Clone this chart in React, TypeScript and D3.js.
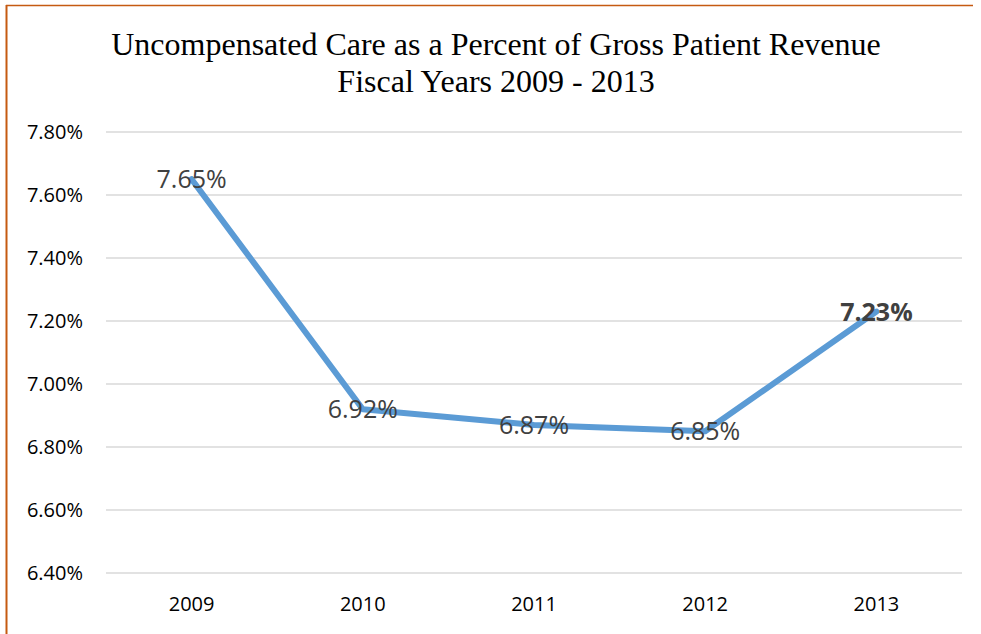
import React, { useEffect, useRef } from "react";
import * as d3 from "d3";

const years = ["2009", "2010", "2011", "2012", "2013"];
const uncompensatedPct = [7.65, 6.92, 6.87, 6.85, 7.23];
const yTicks = [6.4, 6.6, 6.8, 7.0, 7.2, 7.4, 7.6, 7.8];
const titleLines = [
  "Uncompensated Care as a Percent of Gross Patient Revenue",
  "Fiscal Years 2009 - 2013",
];

const App = () => {
  const svgRef = useRef<SVGSVGElement | null>(null);

  useEffect(() => {
    if (!svgRef.current) return;
    const width = 981, height = 634;
    const left = 106, right = 962, top = 132, bottom = 573;

    const x = d3.scaleBand().domain(years).range([left, right]);
    const y = d3.scaleLinear().domain([6.4, 7.8]).range([bottom, top]);

    const svg = d3.select(svgRef.current);
    svg.selectAll("*").remove();

    svg.append("rect").attr("width", width).attr("height", height).attr("fill", "white");

    // page border (orange)
    svg.append("line")
      .attr("x1", 6.5).attr("x2", 6.5).attr("y1", 5).attr("y2", height)
      .attr("stroke", "#C55A11").attr("stroke-width", 2);
    svg.append("line")
      .attr("x1", 6).attr("x2", 973).attr("y1", 5.5).attr("y2", 5.5)
      .attr("stroke", "#C55A11").attr("stroke-width", 1.5);

    svg.append("text")
      .attr("text-anchor", "middle")
      .attr("font-family", "'Liberation Serif', 'Times New Roman', serif")
      .attr("font-size", 32)
      .attr("fill", "#000")
      .selectAll("tspan")
      .data(titleLines)
      .enter()
      .append("tspan")
      .attr("x", 496)
      .attr("y", (d, i) => 55 + i * 37)
      .text(d => d);

    // gridlines
    svg.append("g")
      .selectAll("line")
      .data(yTicks)
      .enter()
      .append("line")
      .attr("x1", left).attr("x2", right)
      .attr("y1", d => y(d)).attr("y2", d => y(d))
      .attr("stroke", "#D9D9D9").attr("stroke-width", 1.5);

    svg.append("g")
      .selectAll("text")
      .data(yTicks)
      .enter()
      .append("text")
      .attr("x", 83)
      .attr("y", d => y(d))
      .attr("dy", "0.36em")
      .attr("text-anchor", "end")
      .attr("font-family", "'Open Sans', sans-serif")
      .attr("font-size", 20)
      .attr("fill", "#000")
      .text(d => d3.format(".2f")(d) + "%");

    svg.append("g")
      .selectAll("text")
      .data(years)
      .enter()
      .append("text")
      .attr("x", d => (x(d) as number) + x.bandwidth() / 2)
      .attr("y", 604)
      .attr("dy", "0.36em")
      .attr("text-anchor", "middle")
      .attr("font-family", "'Open Sans', sans-serif")
      .attr("font-size", 20)
      .attr("fill", "#000")
      .text(d => d);

    const line = d3.line<number>()
      .x((d, i) => (x(years[i]) as number) + x.bandwidth() / 2)
      .y(d => y(d));

    svg.append("path")
      .datum(uncompensatedPct)
      .attr("d", line)
      .attr("fill", "none")
      .attr("stroke", "#5B9BD5")
      .attr("stroke-width", 6)
      .attr("stroke-linejoin", "round")
      .attr("stroke-linecap", "round");

    svg.append("g")
      .selectAll("text")
      .data(uncompensatedPct)
      .enter()
      .append("text")
      .attr("x", (d, i) => (x(years[i]) as number) + x.bandwidth() / 2)
      .attr("y", d => y(d))
      .attr("dy", "0.36em")
      .attr("text-anchor", "middle")
      .attr("font-family", "'Open Sans', sans-serif")
      .attr("font-size", 25)
      .attr("font-weight", (d, i) => (i === years.length - 1 ? "bold" : "normal"))
      .attr("fill", "#404040")
      .text(d => d3.format(".2f")(d) + "%");
  }, []);

  return (
    <div style={{ position: "fixed", left: 0, top: 0 }}>
      <svg ref={svgRef} width={981} height={634} style={{ display: "block" }}></svg>
    </div>
  );
};

export default App;
